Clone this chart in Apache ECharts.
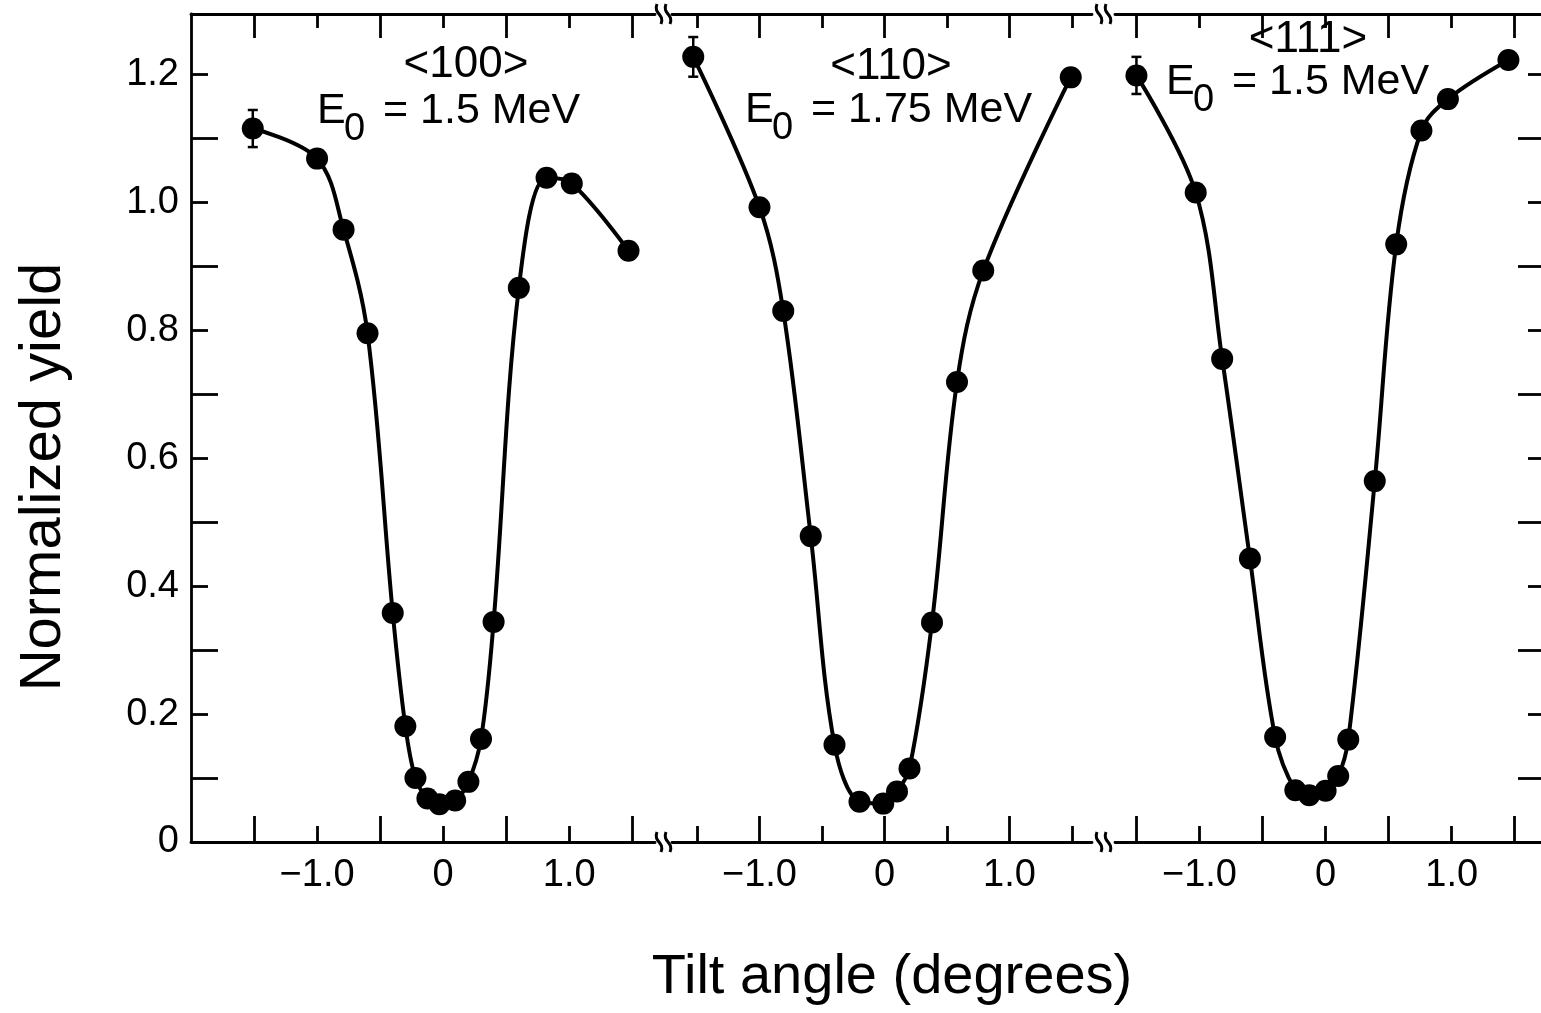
<!DOCTYPE html>
<html>
<head>
<meta charset="utf-8">
<title>Normalized yield vs tilt angle</title>
<script src="https://cdn.jsdelivr.net/npm/echarts@6/dist/echarts.min.js"></script>
<style>
  html, body { margin: 0; padding: 0; background: #fff; }
  #chart { width: 1541px; height: 1013px; }
</style>
</head>
<body>
<div id="chart"></div>
<script>
// <100> scan, E0 = 1.5 MeV
const x100 = [-1.51, -1.0, -0.79, -0.60, -0.40, -0.30, -0.22, -0.125, -0.03, 0.095, 0.20, 0.30, 0.40, 0.60, 0.82, 1.02, 1.47]
const y100 = [1.115, 1.068, 0.957, 0.795, 0.358, 0.181, 0.100, 0.068, 0.059, 0.065, 0.094, 0.161, 0.344, 0.866, 1.038, 1.029, 0.924]
// <110> scan, E0 = 1.75 MeV
const x110 = [-1.53, -1.0, -0.81, -0.59, -0.40, -0.20, -0.01, 0.10, 0.20, 0.38, 0.58, 0.79, 1.49]
const y110 = [1.227, 0.992, 0.830, 0.478, 0.152, 0.063, 0.060, 0.079, 0.115, 0.343, 0.719, 0.893, 1.195]
// <111> scan, E0 = 1.5 MeV
const x111 = [-1.50, -1.03, -0.82, -0.60, -0.40, -0.24, -0.13, 0.0, 0.10, 0.18, 0.39, 0.56, 0.76, 0.97, 1.45]
const y111 = [1.198, 1.015, 0.755, 0.443, 0.164, 0.081, 0.073, 0.080, 0.103, 0.160, 0.564, 0.934, 1.112, 1.161, 1.222]
// error bar on the first point of each scan: [x, y, half height]
const err100 = [[-1.51, 1.115, 0.029]]
const err110 = [[-1.53, 1.227, 0.031]]
const err111 = [[-1.50, 1.198, 0.029]]

// tick positions
const xIntTicks = [-1, 0, 1]
const xHalfTicks = [-1.5, -0.5, 0.5, 1.5]
const yMajorTicks = [0, 0.2, 0.4, 0.6, 0.8, 1.0, 1.2]
const yMinorTicks = [0.1, 0.3, 0.5, 0.7, 0.9, 1.1]

const FONT = '"Liberation Sans", Arial, Helvetica, sans-serif'
const TOP = 14
const HEIGHT = 828
const YMAX = 1.294

// layout of the three broken-axis panels
const panels = [
  { left: 191, width: 464, min: -2.0, max: 1.68, intLong: false, xs: x100, ys: y100, err: err100 },
  { left: 672, width: 420, min: -1.7, max: 1.66, intLong: true, xs: x110, ys: y110, err: err110 },
  { left: 1115, width: 430, min: -1.67, max: 1.74, intLong: false, xs: x111, ys: y111, err: err111 }
]

const chart = echarts.init(document.getElementById('chart'))

const lineStyle = { color: '#000', width: 2.8 }

function fmtX (v) {
  if (v === 0) return '0'
  return (v < 0 ? '\u2212' : '') + Math.abs(v).toFixed(1)
}

function xAxis (gi, p, pos, ticks, len, withLine, withLabel) {
  return {
    type: 'value',
    gridIndex: gi,
    position: pos,
    min: p.min,
    max: p.max,
    axisLine: { show: withLine, onZero: false, lineStyle: lineStyle },
    axisTick: { show: true, inside: true, length: len, customValues: ticks, lineStyle: lineStyle },
    axisLabel: {
      show: withLabel,
      customValues: xIntTicks,
      formatter: fmtX,
      color: '#000',
      fontFamily: FONT,
      fontSize: 38,
      margin: 15
    },
    splitLine: { show: false }
  }
}

function yAxis (gi, pos, ticks, len, withLine, withLabel) {
  return {
    type: 'value',
    gridIndex: gi,
    position: pos,
    min: 0,
    max: YMAX,
    axisLine: { show: withLine, onZero: false, lineStyle: lineStyle },
    axisTick: { show: ticks !== null, inside: true, length: len, customValues: ticks || [], lineStyle: lineStyle },
    axisLabel: {
      show: withLabel,
      customValues: yMajorTicks,
      formatter: v => (v === 0 ? '0' : v.toFixed(1)),
      color: '#000',
      fontFamily: FONT,
      fontSize: 38,
      margin: 12
    },
    splitLine: { show: false }
  }
}

const grids = []
const xAxes = []
const series = []
panels.forEach((p, i) => {
  grids.push({ left: p.left, width: p.width, top: TOP, height: HEIGHT, outerBoundsMode: 'none' })
  const intLen = p.intLong ? 26 : 16
  const halfLen = p.intLong ? 16 : 26
  xAxes.push(xAxis(i, p, 'bottom', xIntTicks, intLen, true, true))
  xAxes.push(xAxis(i, p, 'bottom', xHalfTicks, halfLen, false, false))
  xAxes.push(xAxis(i, p, 'top', xIntTicks, intLen - 2, true, false))
  xAxes.push(xAxis(i, p, 'top', xHalfTicks, halfLen - 2, false, false))
})

const yAxes = [
  yAxis(0, 'left', yMajorTicks, 17, true, true),
  yAxis(0, 'left', yMinorTicks, 27, false, false),
  yAxis(1, 'left', null, 0, false, false),
  yAxis(2, 'right', yMajorTicks, 17, true, false),
  yAxis(2, 'right', yMinorTicks, 27, false, false)
]
const mainY = [0, 2, 3]

panels.forEach((p, i) => {
  series.push({
    type: 'line',
    xAxisIndex: i * 4,
    yAxisIndex: mainY[i],
    data: p.xs.map((x, k) => [x, p.ys[k]]),
    smooth: 0.35,
    symbol: 'circle',
    symbolSize: 22,
    showAllSymbol: true,
    itemStyle: { color: '#000' },
    lineStyle: { color: '#000', width: 4 },
    z: 3
  })
  series.push({
    type: 'custom',
    xAxisIndex: i * 4,
    yAxisIndex: mainY[i],
    data: p.err,
    encode: { x: 0, y: 1 },
    z: 2,
    renderItem: function (params, api) {
      const x = api.value(0)
      const y = api.value(1)
      const e = api.value(2)
      const hi = api.coord([x, y + e])
      const lo = api.coord([x, y - e])
      const w = 5
      const st = { stroke: '#000', lineWidth: 2.5 }
      return {
        type: 'group',
        children: [
          { type: 'line', shape: { x1: hi[0], y1: hi[1], x2: lo[0], y2: lo[1] }, style: st },
          { type: 'line', shape: { x1: hi[0] - w, y1: hi[1], x2: hi[0] + w, y2: hi[1] }, style: st },
          { type: 'line', shape: { x1: lo[0] - w, y1: lo[1], x2: lo[0] + w, y2: lo[1] }, style: st }
        ]
      }
    }
  })
})

// annotation and axis title text
function txt (x, y, text, size, align, rotation) {
  return {
    type: 'text',
    x: x,
    y: y,
    rotation: rotation || 0,
    style: {
      text: text,
      font: size + 'px ' + FONT,
      fill: '#000',
      align: align,
      textAlign: align,
      verticalAlign: 'middle',
      textVerticalAlign: 'middle'
    }
  }
}

function label (bx, by, ex, ey, name, energy) {
  return [
    txt(bx, by, name, 44, 'center'),
    txt(ex, ey, 'E', 43, 'left'),
    txt(ex + 27, ey + 19, '0', 38, 'left'),
    txt(ex + 66, ey, '= ' + energy + ' MeV', 43, 'left')
  ]
}

// axis break marks
function squiggle (x, y) {
  return {
    type: 'bezierCurve',
    shape: { x1: x + 2, y1: y + 10, cpx1: x + 6, cpy1: y, cpx2: x - 6, cpy2: y, x2: x - 2, y2: y - 10 },
    style: { stroke: '#000', lineWidth: 3, fill: null }
  }
}
const breakX = [659, 668, 1099, 1108]
const breaks = []
breakX.forEach(x => {
  breaks.push(squiggle(x, TOP + HEIGHT))
  breaks.push(squiggle(x, TOP))
})

const graphic = [].concat(
  label(466, 65, 317, 111, '<100>', '1.5'),
  label(891, 67, 745, 110, '<110>', '1.75'),
  label(1308, 40, 1166, 82, '<111>', '1.5'),
  [
    txt(44, 477, 'Normalized yield', 58, 'center', Math.PI / 2),
    txt(892, 978, 'Tilt angle (degrees)', 56, 'center')
  ],
  breaks
)

chart.setOption({
  backgroundColor: '#fff',
  animation: false,
  grid: grids,
  xAxis: xAxes,
  yAxis: yAxes,
  series: series,
  graphic: graphic
})
</script>
</body>
</html>
